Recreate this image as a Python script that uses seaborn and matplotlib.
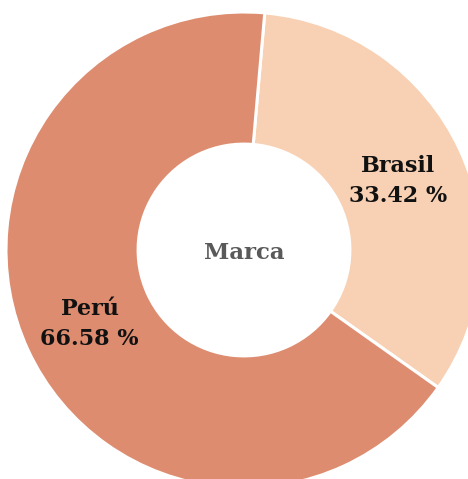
import numpy as np
import matplotlib
matplotlib.use("Agg")
import matplotlib.pyplot as plt
import seaborn as sns

categories = ["Brasil", "Perú"]
values = [33.42, 66.58]
colors = ["#F8D1B4", "#DD8C6F"]
center_label = "Marca"

sns.set_theme(style="white")
plt.rcParams['font.family'] = ['DejaVu Serif']

fig = plt.figure(figsize=(4.68, 4.79), dpi=100)
ax = fig.add_axes([0, 0, 1, 1])

wedges, _ = ax.pie(values, colors=colors, startangle=85, counterclock=False,
                   radius=1.0,
                   wedgeprops=dict(width=0.555, edgecolor="white", linewidth=2.2))

r_lab = 0.715
for w, cat, v in zip(wedges, categories, values):
    ang = np.deg2rad((w.theta1 + w.theta2) / 2)
    x, y = r_lab * np.cos(ang), r_lab * np.sin(ang)
    ax.text(x, y - 0.01, f"{cat}\n{v:.2f} %", ha="center", va="center",
            fontsize=16, fontweight="bold", color="#111111", linespacing=1.45)

ax.text(0, -0.012, center_label, ha="center", va="center", fontsize=16.5,
        fontweight="bold", color="#595959")

ax.set_xlim(-1.0252, 0.9412)
ax.set_ylim(-0.9622, 1.0504)
ax.set_aspect("auto")
ax.axis("off")

fig.savefig("out.png", dpi=100)
